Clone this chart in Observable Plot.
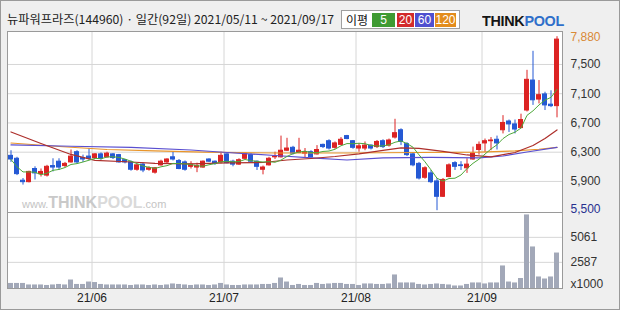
<!DOCTYPE html>
<html><head><meta charset="utf-8">
<script src="https://cdn.jsdelivr.net/npm/d3@7"></script>
<script src="https://cdn.jsdelivr.net/npm/@observablehq/plot@0.6"></script>
<style>
html,body{margin:0;padding:0;background:#fff;}
#chart{position:relative;width:620px;height:310px;background:#efefef;overflow:hidden;box-shadow:inset 0 0 0 1px #9a9a9a;}
#chart svg{position:absolute;left:0;top:0;}
.abs{position:absolute;white-space:nowrap;}
#title{left:7px;top:11px;font:12px/16px "Noto Sans CJK KR";color:#222;transform-origin:0 50%;}
#legend{left:341px;top:10px;width:117px;height:17px;background:#fff;border:1px solid #a0a0a0;font:12px/17px "Noto Sans CJK KR";}
#legend span{position:absolute;top:2px;height:14px;line-height:14px;text-align:center;color:#fff;font-family:"Liberation Sans";font-size:12px;}
#logo{left:482px;top:13px;font:bold 14px/16px "Liberation Sans";transform-origin:0 50%;letter-spacing:-0.3px;}
#wm{left:22px;top:195px;font:bold 16px/16px "Liberation Sans";color:#c9c9c9;}
#wm small{font-weight:normal;font-size:11px;color:#c4c4c4;}
</style></head>
<body><div id="chart"></div>
<script>
// ---- data ----
const dates = ["05/11","05/12","05/13","05/14","05/17","05/18","05/20","05/21","05/24","05/25","05/26","05/27","05/28","05/31",
"06/01","06/02","06/03","06/04","06/07","06/08","06/09","06/10","06/11","06/14","06/15","06/16","06/17","06/18","06/21","06/22","06/23","06/24","06/25","06/28","06/29","06/30",
"07/01","07/02","07/05","07/06","07/07","07/08","07/09","07/12","07/13","07/14","07/15","07/16","07/19","07/20","07/21","07/22","07/23","07/26","07/27","07/28","07/29","07/30",
"08/02","08/03","08/04","08/05","08/06","08/09","08/10","08/11","08/12","08/13","08/17","08/18","08/19","08/20","08/23","08/24","08/25","08/26","08/27","08/30","08/31",
"09/01","09/02","09/03","09/06","09/07","09/08","09/09","09/10","09/13","09/14","09/15","09/16","09/17"];
const open = [6250,6210,5910,5890,6070,6000,5980,6110,6170,6110,
6160,6300,6220,6240,6220,6270,6230,6270,6260,6190,
6160,6060,6130,6060,6020,6120,6160,6230,6180,6160,
6100,6090,6090,6200,6170,6160,6270,6170,6130,6210,
6260,6170,6060,6120,6230,6230,6320,6360,6290,6280,
6300,6270,6400,6450,6360,6400,6520,6450,6350,6350,
6390,6370,6450,6390,6500,6600,6410,6270,6140,5950,
6010,5900,5690,5960,6150,6120,6080,6200,6330,6420,
6450,6470,6600,6720,6680,6630,6870,7280,7020,7090,
6950,6930];
const high = [6320,6230,5940,6040,6100,6070,6120,6210,6210,6160,
6330,6320,6260,6350,6280,6290,6300,6280,6270,6200,
6180,6130,6150,6100,6090,6190,6210,6300,6200,6180,
6170,6150,6180,6210,6180,6300,6280,6190,6210,6290,
6280,6180,6110,6230,6300,6520,6490,6380,6490,6350,
6320,6390,6410,6470,6440,6500,6530,6460,6420,6440,
6400,6460,6470,6480,6750,6620,6430,6290,6160,6100,
6050,5940,5940,6140,6170,6170,6210,6370,6440,6480,
6500,6520,6800,6740,6740,6820,7420,7680,7280,7120,
7140,7880];
const low = [6160,5980,5850,5880,5920,5960,5960,6030,6050,6090,
6150,6140,6160,6190,6210,6190,6220,6200,6150,6140,
6040,6040,6020,6040,6000,6110,6140,6180,6060,6040,
6070,6020,6080,6160,6120,6140,6140,6100,6120,6200,
6160,6050,5990,6110,6200,6220,6310,6260,6280,6220,
6220,6260,6350,6330,6340,6390,6470,6340,6300,6320,
6330,6350,6350,6370,6480,6390,6240,6100,5920,5930,
5870,5500,5680,5950,6050,6050,6010,6190,6260,6300,
6320,6330,6550,6570,6550,6620,6850,6940,6960,6870,
6910,6770];
const close = [6200,6000,5890,6030,6010,6030,6100,6090,6090,6140,
6240,6160,6200,6210,6270,6210,6280,6220,6160,6160,
6060,6120,6050,6080,6080,6170,6200,6200,6070,6060,
6130,6110,6170,6170,6140,6250,6150,6130,6190,6280,
6170,6100,6090,6210,6240,6320,6350,6280,6320,6300,
6230,6330,6370,6350,6420,6470,6480,6360,6380,6390,
6350,6440,6370,6460,6560,6440,6260,6120,5940,6080,
5890,5690,5920,6120,6100,6110,6130,6280,6400,6450,
6460,6420,6700,6680,6610,6740,7290,7010,7080,6940,
6930,7840];
const volume = [500,500,500,350,350,350,300,350,400,350,
840,400,400,640,590,400,350,350,350,350,
300,350,350,300,350,300,350,450,400,350,
300,350,350,300,350,500,350,300,300,350,
350,350,400,400,500,1040,640,300,400,300,
300,500,400,450,500,500,400,400,300,450,
450,400,400,450,1340,550,550,550,400,350,
400,450,400,350,250,250,400,550,550,450,
550,550,2230,640,550,990,7280,4110,1140,940,
1140,3510];

// moving averages (sample days)
const ma20Days = ["05/11","05/18","05/26","06/01","06/09","06/15","06/23","07/01","07/09","07/15","07/21","07/27","08/02","08/06","08/11","08/17","08/23","08/27","09/02","09/08","09/13","09/15","09/17"];
const ma20 = [6577,6419,6269,6187,6166,6146,6139,6153,6159,6193,6214,6241,6276,6324,6358,6351,6310,6262,6235,6296,6392,6488,6604];
const ma60Days = ["05/11","05/26","06/09","06/23","07/01","07/13","07/21","07/29","08/06","08/19","08/31","09/06","09/10","09/17"];
const ma60 = [6399,6381,6365,6330,6296,6255,6221,6193,6221,6228,6221,6248,6303,6365];
const ma120Days = ["05/11","05/24","06/03","06/15","06/25","07/13","07/29","08/17","08/31","09/08","09/14","09/17"];
const ma120 = [6426,6378,6337,6317,6300,6289,6289,6296,6300,6317,6340,6365];

const monthStarts = ["06/01","07/01","08/02","09/01"];
const monthLabels = ["21/06","21/07","21/08","21/09"];
const priceTicks = [7500,7100,6700,6300,5900];
const volumeTicks = [5061,2587];
const title = "뉴파워프라즈(144960) · 일간(92일) 2021/05/11 ~ 2021/09/17";
const legendItems = ["5","20","60","120"];
const legendColors = ["#3f9b33","#d22a2a","#4f4fcf","#e38c1c"];

// ---- chart ----
const candles = dates.map((d,i)=>({date:d,open:open[i],high:high[i],low:low[i],close:close[i],volume:volume[i]}));
const toPts = (days, vals) => days.map((d,i)=>({date:d, v:vals[i]}));
const UP = "#dc2323", DOWN = "#2559d4";
const col = d => d.close >= d.open ? UP : DOWN;
const fmt = d3.format(",");
const W = 620, H = 310;
const xs = {type:"band", domain:dates, range:[7.5,559.5], paddingInner:1/6, paddingOuter:1/12, align:0.5, axis:null};
const font = {fontFamily:"Liberation Sans", fontSize:12};

const pricePlot = Plot.plot({
  width:W, height:H, marginLeft:7, marginRight:58, marginTop:31, marginBottom:98,
  style:{background:"transparent", overflow:"visible"},
  x: xs,
  y: {domain:[5475,7951], axis:null},
  color: {type:"identity"},
  marks: [
    Plot.frame({fill:"white", stroke:"none"}),
    Plot.ruleY(priceTicks, {stroke:"#d6d6d6"}),
    Plot.ruleX(monthStarts, {dx:-3, stroke:"#d6d6d6"}),
    Plot.ruleX(candles, {x:"date", y1:"low", y2:"high", stroke:col, strokeWidth:1}),
    Plot.barY(candles, {x:"date", y1:"open", y2:"close", fill:col, stroke:col, strokeWidth:1, insetLeft:0.5, insetRight:0.5}),
    Plot.line(toPts(ma120Days, ma120), {x:"date", y:"v", stroke:"#e9952a", strokeWidth:1.2}),
    Plot.line(toPts(ma60Days, ma60), {x:"date", y:"v", stroke:"#5a4fd0", strokeWidth:1.2}),
    Plot.line(toPts(ma20Days, ma20), {x:"date", y:"v", stroke:"#ad2e2a", strokeWidth:1.2}),
    Plot.lineY(candles, Plot.windowY({k:5, anchor:"end"}, {x:"date", y:"close", stroke:"#4ea83a", strokeWidth:1})),
    Plot.frame({stroke:"#9a9a9a"}),
    Plot.text(priceTicks, {y:d=>d, text:d=>fmt(d), frameAnchor:"right", textAnchor:"start", dx:8, fill:"#333", ...font}),
    Plot.text([d3.max(high)], {y:d=>d, text:d=>fmt(d), frameAnchor:"right", textAnchor:"start", dx:8, fill:"#d98a38", ...font}),
    Plot.text([d3.min(low)], {y:d=>d, text:d=>fmt(d), frameAnchor:"right", textAnchor:"start", dx:8, dy:-2, fill:"#27308f", ...font})
  ]
});

const volPlot = Plot.plot({
  width:W, height:H, marginLeft:7, marginRight:58, marginTop:212, marginBottom:22,
  style:{background:"transparent", overflow:"visible"},
  x: xs,
  y: {domain:[0,7520], axis:null},
  marks: [
    Plot.frame({fill:"white", stroke:"none"}),
    Plot.ruleY(volumeTicks, {stroke:"#d6d6d6"}),
    Plot.ruleX(monthStarts, {dx:-3, stroke:"#d6d6d6"}),
    Plot.barY(candles, {x:"date", y:"volume", fill:"#a2a8b8"}),
    Plot.frame({stroke:"#9a9a9a"}),
    Plot.text(volumeTicks, {y:d=>d, text:d=>String(d), frameAnchor:"right", textAnchor:"start", dx:8, fill:"#333", ...font}),
    Plot.text(["x1000"], {text:d=>d, frameAnchor:"bottom-right", textAnchor:"start", dx:8, dy:-1, fill:"#333", ...font}),
    Plot.text(monthStarts, {x:d=>d, text:(d,i)=>monthLabels[i], frameAnchor:"bottom", dx:-3, dy:13, fill:"#222", ...font, letterSpacing:"1px"})
  ]
});

const root = document.getElementById("chart");
root.appendChild(pricePlot);
root.appendChild(volPlot);

// header
const t = document.createElement("div"); t.id="title"; t.className="abs"; t.textContent = title; root.appendChild(t);
const tw = t.getBoundingClientRect().width; t.style.transform = `scaleX(${327/tw})`;

const lg = document.createElement("div"); lg.id="legend"; lg.className="abs"; root.appendChild(lg);
const lbl = document.createElement("span"); lbl.textContent="이평"; lbl.style.cssText="left:3px;width:24px;color:#111;font-family:'Noto Sans CJK KR';"; lg.appendChild(lbl);
const boxes = [[30,23],[55,17],[73,19],[93,21]];
legendItems.forEach((s,i)=>{const b=document.createElement("span"); b.textContent=s; b.style.left=boxes[i][0]+"px"; b.style.width=boxes[i][1]+"px"; b.style.background=legendColors[i]; lg.appendChild(b);});

const logo = document.createElement("div"); logo.id="logo"; logo.className="abs";
logo.innerHTML = '<span style="color:#151515">THINK</span><span style="color:#2f6fca">POOL</span>';
root.appendChild(logo);
const lw = logo.getBoundingClientRect().width; logo.style.transform = `scaleX(${82/lw})`;

const wm = document.createElement("div"); wm.id="wm"; wm.className="abs";
wm.innerHTML = '<small>www.</small>THINK<span style="color:#dadada">POOL</span><small>.com</small>';
root.appendChild(wm);
</script>
</body></html>
